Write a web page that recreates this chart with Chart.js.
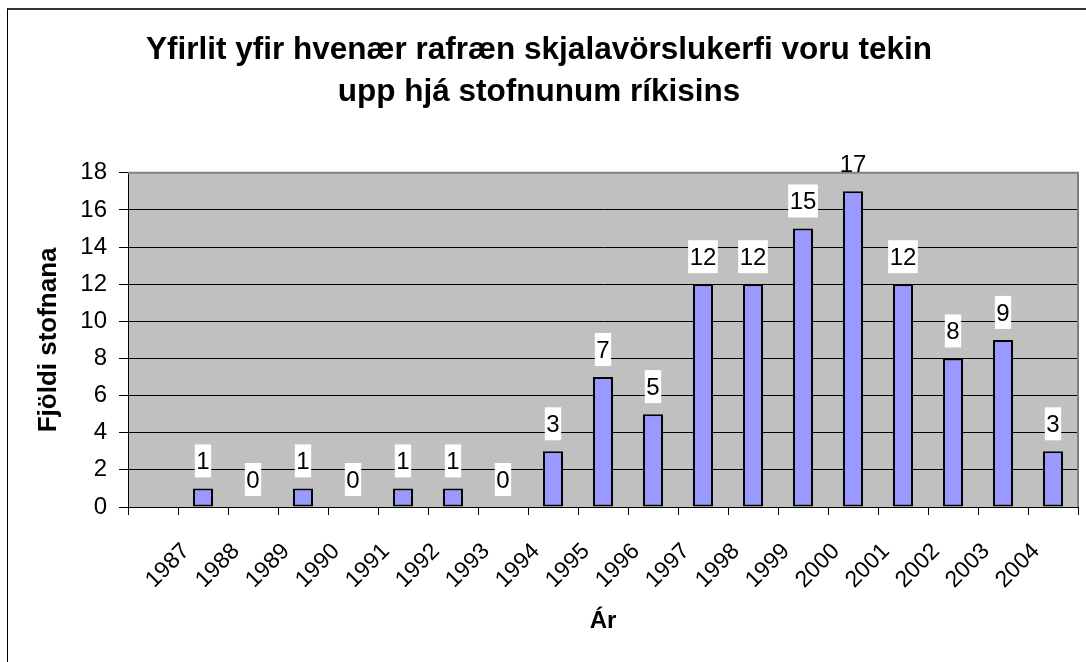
<!DOCTYPE html>
<html>
<head>
<meta charset="utf-8">
<title>Rafræn skjalavörslukerfi</title>
<script src="https://cdn.jsdelivr.net/npm/chart.js"></script>
<style>
  html, body { margin: 0; padding: 0; background: #fff; }
  #wrap { position: relative; width: 1086px; height: 662px; overflow: hidden; }
  #frame { position: absolute; left: 7px; top: 8px; right: -5px; bottom: -5px;
           border-top: 2px solid #333; border-left: 1px solid #000; pointer-events: none; }
</style>
</head>
<body>
<div id="wrap">
  <canvas id="chart" width="1086" height="662"></canvas>
  <div id="frame"></div>
</div>
<script>
// Ár og fjöldi stofnana sem tóku upp kerfi það ár
const years = ["1987", "1988", "1989", "1990", "1991", "1992", "1993", "1994", "1995",
               "1996", "1997", "1998", "1999", "2000", "2001", "2002", "2003", "2004"];
const counts = [1, 0, 1, 0, 1, 1, 0, 3, 7, 5, 12, 12, 15, 17, 12, 8, 9, 3];

const FONT = '"Liberation Sans", Arial, sans-serif';

// grár bakgrunnur og rammi um teiknisvæðið (eins og í Excel)
const plotArea = {
  id: 'plotArea',
  beforeDraw(chart) {
    const { ctx, chartArea: a } = chart;
    ctx.save();
    ctx.fillStyle = '#fff';
    ctx.fillRect(0, 0, chart.width, chart.height);
    ctx.fillStyle = '#c0c0c0';
    ctx.fillRect(a.left, a.top, a.right - a.left, a.bottom - a.top);
    ctx.restore();
  },
  beforeDatasetsDraw(chart) {
    const { ctx, chartArea: a } = chart;
    ctx.save();
    ctx.strokeStyle = '#808080';
    ctx.lineWidth = 2;
    ctx.beginPath();
    ctx.moveTo(a.left, a.top);
    ctx.lineTo(a.right, a.top);
    ctx.lineTo(a.right, a.bottom);
    ctx.stroke();
    ctx.restore();
  }
};

// gildi ofan við hverja súlu, á hvítum bakgrunni
const barLabels = {
  id: 'barLabels',
  afterDatasetsDraw(chart) {
    const { ctx, chartArea } = chart;
    const meta = chart.getDatasetMeta(0);
    const data = chart.data.datasets[0].data;
    ctx.save();
    ctx.font = '24px ' + FONT;
    ctx.textAlign = 'center';
    ctx.textBaseline = 'alphabetic';
    meta.data.forEach((bar, i) => {
      const v = data[i];
      if (v === null || v === undefined) return;
      const txt = String(v);
      const w = ctx.measureText(txt).width + 3;
      const boxTop = bar.y - 44;
      if (boxTop >= chartArea.top) {
        ctx.fillStyle = '#fff';
        ctx.fillRect(bar.x - w / 2, boxTop, w, 33);
      }
      ctx.fillStyle = '#000';
      ctx.fillText(txt, bar.x, bar.y - 19);
    });
    ctx.restore();
  }
};

new Chart(document.getElementById('chart'), {
  type: 'bar',
  data: {
    labels: [''].concat(years),
    datasets: [{
      data: [null].concat(counts),
      backgroundColor: '#9999ff',
      borderColor: '#000',
      borderWidth: 2,
      borderSkipped: false,
      barPercentage: 0.4,
      categoryPercentage: 1
    }]
  },
  options: {
    responsive: false,
    devicePixelRatio: 1,
    animation: false,
    layout: { padding: { left: 0, right: 8, top: 0, bottom: 0 } },
    plugins: {
      legend: { display: false },
      tooltip: { enabled: false },
      title: {
        display: true,
        text: ['Yfirlit yfir hvenær rafræn skjalavörslukerfi voru tekin', 'upp hjá stofnunum ríkisins'],
        color: '#000',
        font: { family: FONT, size: 31.5, weight: 'bold', lineHeight: 1.33 },
        padding: { top: 29, bottom: 60 }
      }
    },
    scales: {
      x: {
        offset: true,
        grid: { display: true, drawOnChartArea: false, offset: true, tickLength: 8, color: '#000' },
        border: { color: '#000', width: 1 },
        ticks: {
          color: '#000',
          font: { family: FONT, size: 23 },
          minRotation: 45,
          maxRotation: 45,
          autoSkip: false,
          labelOffset: -17,
          padding: 23
        },
        title: {
          display: true,
          text: 'Ár',
          color: '#000',
          font: { family: FONT, size: 24, weight: 'bold' },
          padding: { top: 0, bottom: 26 }
        },
        afterFit(scale) {
          scale.height = 155;
          scale.paddingLeft = 0;
          scale.paddingRight = 0;
        }
      },
      y: {
        min: 0,
        max: 18,
        ticks: {
          stepSize: 2,
          color: '#000',
          font: { family: FONT, size: 24 },
          padding: 12
        },
        grid: { color: '#000', lineWidth: 1, tickLength: 9 },
        border: { color: '#000', width: 1 },
        title: {
          display: true,
          text: 'Fjöldi stofnana',
          color: '#000',
          font: { family: FONT, size: 26, weight: 'bold' },
          padding: { top: 33, bottom: 0 }
        },
        afterFit(scale) { scale.width = 128; }
      }
    }
  },
  plugins: [plotArea, barLabels]
});
</script>
</body>
</html>
